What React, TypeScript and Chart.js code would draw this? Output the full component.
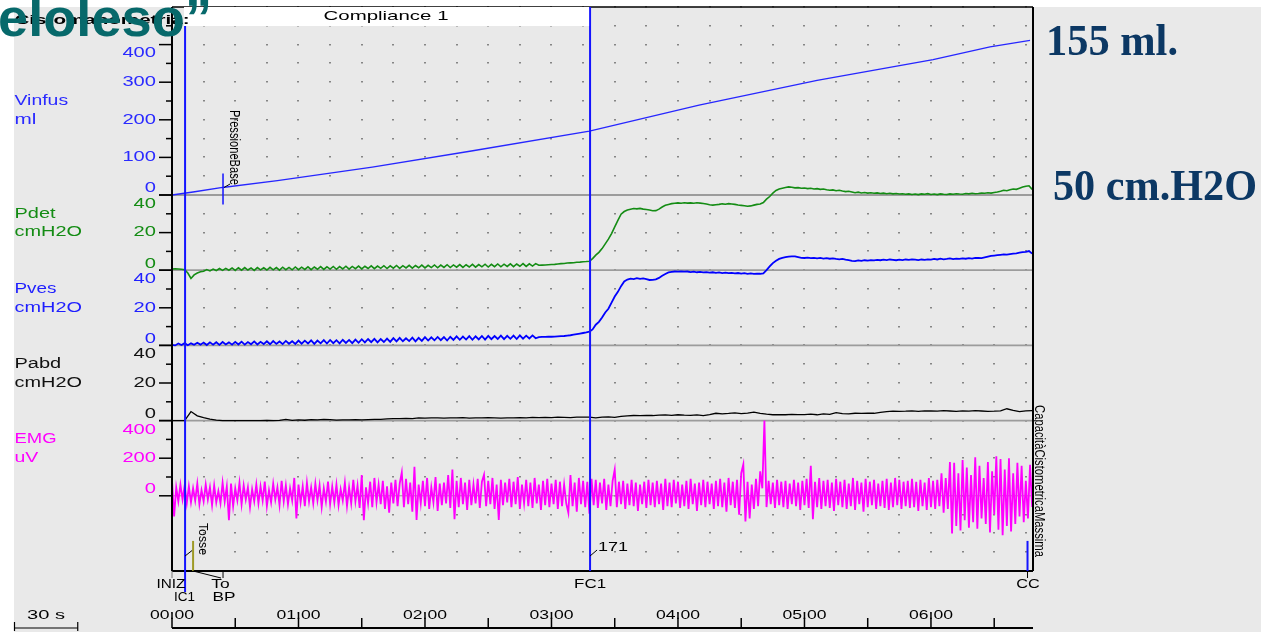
import React, { useEffect, useRef } from 'react';
import { Chart, registerables } from 'chart.js';

Chart.register(...registerables);

// ---------------- DATA ----------------
// time axis (seconds)
const X_MAX = 408.4;
const TIME_MAJOR = [0, 60, 120, 180, 240, 300, 360];
const TIME_LABELS = ['00:00', '01:00', '02:00', '03:00', '04:00', '05:00', '06:00'];
const TIME_MINOR = [30, 90, 150, 210, 270, 330, 390];

// Vinfus (ml) read at irregular times
const VINFUS_T = [0, 10, 24, 50, 95, 142, 198, 250, 306, 361, 388, 407];
const VINFUS_ML = [0, 8, 20, 38, 74, 117, 170, 239, 305, 360, 394, 411];

// Pressure traces sampled every 1.5 s (cmH2O)
const PRESS_DT = 1.5;
const PVES = [
  0.3, 0.0, 1.0, 0.2, 1.2, 0.1, 1.1, 0.3, 1.4, 0.4,
  1.5, 0.2, 1.6, 0.4, 1.7, 0.3, 1.8, 0.5, 1.6, 0.4,
  1.9, 0.5, 2.0, 0.4, 1.8, 0.6, 2.1, 0.5, 1.9, 0.7,
  2.2, 0.6, 2.3, 0.8, 2.1, 0.7, 2.4, 0.9, 2.2, 0.8,
  2.6, 0.9, 2.5, 1.0, 2.7, 0.8, 2.6, 1.1, 2.8, 1.0,
  2.9, 1.2, 2.8, 1.1, 3.0, 1.3, 2.9, 1.2, 3.1, 1.4,
  3.3, 1.6, 3.4, 1.7, 3.5, 1.6, 3.4, 1.8, 3.6, 1.9,
  3.9, 2.1, 4.0, 2.2, 3.8, 2.3, 4.1, 2.1, 4.0, 2.4,
  4.4, 2.6, 4.3, 2.7, 4.5, 2.8, 4.4, 2.6, 4.6, 2.9,
  4.8, 3.0, 4.7, 3.1, 4.9, 3.0, 4.8, 3.2, 5.0, 3.1,
  5.1, 3.3, 5.0, 3.4, 5.2, 3.3, 5.1, 3.5, 5.2, 3.4,
  5.3, 3.6, 5.2, 3.7, 5.3, 3.8, 4.4,
  4.5, 4.5, 4.6, 4.6, 4.7, 4.8, 4.9, 5.0, 5.2, 5.4, 5.7, 6.0, 6.3, 6.6, 6.9, 7.3,
  8.5, 11.0, 12.5, 14.8, 17.5, 19.5, 22.8, 26.0, 28.5, 31.5, 34.0, 35.0, 35.5, 35.3,
  35.8, 35.4, 35.6, 35.2, 34.8, 34.9, 35.1, 35.9, 37.0, 38.0, 38.8, 39.1, 39.3, 39.2,
  39.4, 39.2, 39.3, 39.0, 39.2, 38.9, 39.1, 38.8, 39.0, 38.7,
  38.9, 38.6, 38.8, 38.5, 38.7, 38.4, 38.6, 38.3, 38.5, 38.2,
  38.4, 38.1, 38.3, 38.0, 38.2, 38.1, 38.3,
  40.0, 42.0, 43.8, 45.0, 46.0, 46.6, 47.0, 47.2, 47.4, 47.3, 47.0, 46.6,
  46.5, 46.7, 46.4, 46.6, 46.3, 46.5, 46.2, 46.4, 46.1, 46.3,
  46.0, 45.8, 46.0, 45.6, 45.3, 45.0, 44.8, 45.2, 45.0, 45.3,
  45.1, 45.4, 45.2, 45.5, 45.3, 45.6, 45.4, 45.7, 45.5, 45.3,
  45.6, 45.4, 45.7, 45.5, 45.8, 45.6, 45.4, 45.7, 45.5, 45.8,
  45.6, 46.0, 45.7, 46.1, 45.8, 46.0, 46.3, 45.9, 46.2, 46.0,
  46.3, 46.1, 46.4, 46.2, 46.5, 46.6, 46.4, 46.8, 47.2, 47.6,
  47.8, 48.0, 48.2, 48.4, 48.3, 48.6, 48.8, 49.0, 49.3, 49.6,
  49.8, 50.2, 48.8,
];
const PDET = [
  0.6, 0.7, 0.6, 0.5, 0.3, -1.5, -4.4, -2.5, -1.5, -0.8,
  -0.6, 0.3, -0.4, 0.6, -0.2, 0.9, -0.1, 1.0, 0.0, 1.2,
  -0.1, 1.3, 0.0, 1.4, 0.1, 1.2, -0.1, 1.4, 0.2, 1.3,
  0.1, 1.5, 0.2, 1.4, 0.0, 1.6, 0.3, 1.5, 0.2, 1.7,
  0.3, 1.6, 0.4, 1.8, 0.3, 1.7, 0.5, 1.9, 0.4, 1.8,
  0.6, 2.0, 0.5, 1.9, 0.7, 2.1, 0.6, 2.0, 0.8, 2.2,
  0.7, 2.1, 0.9, 2.3, 0.8, 2.2, 1.0, 2.4, 0.9, 2.3,
  1.1, 2.5, 1.0, 2.4, 1.2, 2.6, 1.1, 2.5, 1.3, 2.7,
  1.2, 2.6, 1.4, 2.8, 1.3, 2.7, 1.5, 2.9, 1.4, 2.8,
  1.6, 3.0, 1.5, 2.9, 1.7, 3.1, 1.6, 3.0, 1.8, 3.2,
  1.7, 3.1, 1.9, 3.3, 1.8, 3.2, 2.0, 3.4, 1.9, 3.3,
  2.1, 3.5, 2.0, 3.4, 2.2, 3.5, 2.6,
  2.7, 2.8, 2.9, 3.0, 3.1, 3.3, 3.5, 3.6, 3.8, 3.9, 4.0, 4.2, 4.3, 4.5, 4.6, 4.8,
  6.2, 8.0, 9.5, 11.5, 14.0, 16.5, 19.5, 23.0, 26.5, 29.8, 31.2, 32.0, 32.4, 32.8,
  32.6, 32.9, 32.5, 32.3, 32.0, 31.6, 31.7, 32.5, 33.6, 34.5, 35.0, 35.4, 35.6, 35.8,
  35.6, 35.9, 35.7, 35.8, 35.6, 35.9, 35.7, 35.5, 35.2, 34.8,
  34.6, 34.8, 35.0, 35.3, 35.1, 35.4, 35.2, 35.0, 34.7, 34.5,
  34.3, 34.0, 34.2, 34.6, 35.0, 35.2, 36.0,
  37.8, 39.2, 41.0, 42.4, 43.2, 43.6, 44.0, 44.3, 44.1, 43.8, 43.9, 43.6,
  43.7, 43.4, 43.6, 43.2, 43.4, 43.0, 43.2, 42.8, 42.5, 42.7,
  42.3, 42.5, 42.1, 41.8, 42.0, 41.6, 41.2, 41.5, 41.1, 41.3,
  41.0, 41.2, 40.9, 41.1, 40.8, 41.0, 40.7, 40.9, 40.6, 40.8,
  40.5, 40.7, 40.4, 40.6, 40.3, 40.5, 40.2, 40.6, 40.4, 40.7,
  40.3, 40.5, 40.2, 40.6, 40.4, 40.3, 40.6, 40.4, 40.7, 40.5,
  40.4, 40.8, 40.6, 40.9, 40.7, 40.8, 41.0, 40.9, 41.2, 41.0,
  41.3, 41.6, 42.0, 42.5, 42.3, 42.8, 43.2, 43.0, 43.6, 44.2,
  44.7, 44.9, 43.0,
];

// Pabd sampled every 3 s (cmH2O)
const PABD_DT = 3;
const PABD = [
  0, 0, 0, 4.8, 2.5, 1.6, 0.8, 0.2, 0, 0,
  0, 0, 0, 0, 0, 0.1, 0.0, 0.1, 0.6, 0.1,
  0.4, 0.2, 0.5, 0.4, 0.6, 0.5, 0.3, 0.4, 0.4, 0.5,
  0.4, 0.5, 0.6, 0.7, 0.9, 1.1, 1.0, 1.2, 1.1, 1.4,
  1.3, 1.5, 1.4, 1.3, 1.5, 1.4, 1.6, 1.3, 1.5, 1.4,
  1.6, 1.5, 1.3, 1.5, 1.4, 1.6, 1.5, 1.7, 1.6, 1.7,
  1.6, 1.8, 1.7, 1.6, 1.8, 1.9, 1.9, 1.5, 1.8, 2.0,
  1.7, 2.2, 2.5, 2.7, 2.6, 2.8, 2.7, 2.9, 3.0, 2.8,
  3.1, 2.9, 2.8, 3.0, 2.7, 3.2, 3.9, 3.6, 3.8, 4.1,
  3.7, 4.0, 4.5, 3.9, 3.4, 3.1, 3.2, 3.1, 3.3, 3.2,
  3.2, 3.4, 3.1, 3.6, 3.3, 4.2, 3.7, 3.6, 3.9, 3.8,
  4.0, 3.9, 4.4, 4.8, 5.0, 4.9, 5.0, 5.2, 4.9, 5.2,
  5.1, 5.0, 5.3, 5.1, 4.9, 5.2, 5.0, 5.3, 5.1, 4.9,
  5.0, 5.2, 6.3, 5.4, 4.8, 5.2, 5.3,
];

// EMG sampled every 1 s (uV)
const EMG_DT = 1;
const EMG = [
  80, -110, 45, -30, 60, -20, 55, -40, 50, -35,
  40, -25, 65, -45, 30, -30, 60, -20, 45, -50,
  55, -35, 25, -40, 70, -30, 50, -130, 65, -55,
  40, -25, 70, -45, 55, -20, 45, -60, 35, -30,
  60, -40, 50, -25, 75, -55, 30, -35, 65, -20,
  45, -50, 80, -30, 55, -45, 40, -25, 95, -120,
  60, -35, 50, -55, 70, -30, 45, -40, 65, -25,
  55, -60, 40, -30, 75, -45, 50, -35, 60, -50,
  35, -25, 70, -55, 45, -40, 85, -30, 55, -65,
  110, -130, 45, -40, 75, -60, 95, -35, 60, -45,
  80, -70, 50, -90, 70, -40, 85, -55, 65, 125,
  -60, 90, -45, 70, -85, 154, -128, 60, -40, 80,
  -55, 95, -70, 45, -35, 100, -80, 65, -50, 70,
  -40, 110, -65, 140, -125, 80, -60, 95, -45, 70,
  -75, 85, -50, 60, -40, 90, -65, 75, 112, -55,
  80, -45, 95, -70, 60, -128, 85, -50, 70, -35,
  90, -60, 75, -45, 100, -70, 60, -40, 85, -55,
  70, -65, 95, -40, 60, -75, 80, -50, 90, -60,
  65, -45, 85, -70, 75, -55, 60, -40, -90, 110,
  -55, 70, -85, 95, -45, 80, -60, 75, -95, 90,
  -50, 85, -65, 70, -40, 90, -75, 60, -55, 80,
  140, -60, 75, -45, 80, -70, 65, -50, 85, -55,
  70, -80, 60, -45, 75, -65, 85, -50, 70, -60,
  80, -45, 65, -75, 90, -55, 70, -60, 85, -40,
  75, -65, 60, -55, 80, -70, 90, -45, 65, -80,
  70, -50, 85, -60, 75, -45, 65, -70, 80, -55,
  90, -60, 70, -85, 95, -50, 75, -65, 85, -100,
  120, 167, -137, 75, -120, 60, -70, 90, -55, 130,
  40, 400, -60, 80, -45, 70, -65, 85, -50, 75,
  -60, 80, -70, 65, -45, 85, -55, 70, -75, 80,
  -50, 90, -65, 160, -125, 75, -60, 95, -70, 80,
  -55, 85, -65, 70, -80, 90, -50, 75, -60, 85,
  -70, 65, -55, 95, -75, 80, -45, 70, -85, 90,
  -60, 75, -50, 85, -70, 65, -55, 80, -65, 90,
  -75, 70, -60, 95, -50, 85, -70, 75, -55, 80,
  -65, 90, -60, 75, -80, 85, -55, 70, -75, 95,
  -60, 80, -70, 85, -55, 120, -90, 95, -70, 180,
  -200, 175, -160, 120, -185, 190, -130, 150, -170, 110,
  -140, 205, -175, 160, -120, 95, -150, 180, -195, 130,
  -100, 210, -180, 195, -210, 140, -160, 200, -190, 120,
  -150, 175, -110, 160, -140, 80, -120, 165, -60,
];

// axis tick labels per panel
const VINFUS_TICKS = [0, 100, 200, 300, 400];
const VINFUS_MINOR = [50, 150, 250, 350, 450];
const PRESS_TICKS = [0, 20, 40];
const PRESS_MINOR = [10, 30];
const EMG_TICKS = [0, 200, 400];
const EMG_MINOR = [100, 300];

// event markers (seconds)
const T_IC1 = 6.2;
const T_TOSSE = 10;
const T_BP = 24.2;
const T_FC1 = 198.3;
const T_CC = 405.8;
const FC1_VOLUME = '171';

// ---------------- STYLE ----------------
const W = 1261;
const H = 632;
const BG = '#e9e9e9';
const BLUE = '#1414ff';
const GREEN = '#148c14';
const MAGENTA = '#ff00ff';
const NAVY = '#0c3864';
const TEAL = '#07696b';
const SANS = '"Liberation Sans", Arial, sans-serif';
const SERIF = '"Liberation Serif", "Times New Roman", serif';

type Panel = {
  id: string; min: number; max: number; step: number; color: string;
  ticks: number[]; minor: number[]; name: string; unit: string;
  nameAt: number; unitAt: number; nameW: number; unitW: number; topDy: number;
};

const PANELS: Panel[] = [
  { id: 'yV', min: 0, max: 500, step: 50, color: '#2a2aff', ticks: VINFUS_TICKS, minor: VINFUS_MINOR, name: 'Vinfus', unit: 'ml', nameAt: 250, unitAt: 200, nameW: 53.6, unitW: 21.9, topDy: 9 },
  { id: 'yPdet', min: 0, max: 40, step: 10, color: GREEN, ticks: PRESS_TICKS, minor: PRESS_MINOR, name: 'Pdet', unit: 'cmH2O', nameAt: 30, unitAt: 20, nameW: 41, unitW: 67.5, topDy: 9 },
  { id: 'yPves', min: 0, max: 40, step: 10, color: '#1f1fff', ticks: PRESS_TICKS, minor: PRESS_MINOR, name: 'Pves', unit: 'cmH2O', nameAt: 30, unitAt: 20, nameW: 42, unitW: 67.5, topDy: 9 },
  { id: 'yPabd', min: 0, max: 40, step: 10, color: '#111111', ticks: PRESS_TICKS, minor: PRESS_MINOR, name: 'Pabd', unit: 'cmH2O', nameAt: 30, unitAt: 20, nameW: 46.7, unitW: 67.5, topDy: 9 },
  { id: 'yEMG', min: -400, max: 400, step: 100, color: MAGENTA, ticks: EMG_TICKS, minor: EMG_MINOR, name: 'EMG', unit: 'uV', nameAt: 300, unitAt: 200, nameW: 42, unitW: 23.8, topDy: 10 },
];

type TOpt = { font: string; color: string; w?: number; align?: CanvasTextAlign; rot?: number; base?: CanvasTextBaseline };
function txt(ctx: CanvasRenderingContext2D, s: string, x: number, y: number, o: TOpt) {
  ctx.save();
  ctx.font = o.font;
  ctx.fillStyle = o.color;
  ctx.textBaseline = o.base || 'middle';
  ctx.textAlign = o.align || 'left';
  const m = ctx.measureText(s).width;
  const sx = o.w ? o.w / m : 1;
  ctx.translate(x, y);
  if (o.rot) ctx.rotate(o.rot);
  ctx.scale(sx, 1);
  ctx.fillText(s, 0, 0);
  ctx.restore();
}

function line(ctx: CanvasRenderingContext2D, x1: number, y1: number, x2: number, y2: number, color: string, w: number) {
  ctx.save();
  ctx.strokeStyle = color;
  ctx.lineWidth = w;
  ctx.beginPath();
  ctx.moveTo(x1, y1);
  ctx.lineTo(x2, y2);
  ctx.stroke();
  ctx.restore();
}

const backgroundPlugin = {
  id: 'urodynBg',
  beforeDraw(chart: any) {
    const { ctx, scales } = chart;
    const a = chart.chartArea;
    const xs = scales.x;
    ctx.save();
    ctx.fillStyle = '#ffffff';
    ctx.fillRect(0, 0, W, H);
    ctx.fillStyle = BG;
    ctx.fillRect(14, 7, W - 14, H - 7);
    // dotted grid
    ctx.fillStyle = '#858585';
    for (const p of PANELS) {
      const s = scales[p.id];
      for (let v = p.min; v <= p.max; v += p.step) {
        const py = Math.round(s.getPixelForValue(v));
        for (let t = 15; t < X_MAX; t += 15) {
          const px = Math.round(xs.getPixelForValue(t));
          ctx.fillRect(px - 1, py - 1, 2, 1.5);
        }
      }
    }
    // zero baselines
    for (const p of PANELS) {
      const y0 = scales[p.id].getPixelForValue(0);
      line(ctx, a.left, y0, a.right, y0, '#9c9c9c', p.id === 'yEMG' ? 1 : 1.8);
    }
    ctx.restore();
  },
};

const overlayPlugin = {
  id: 'urodynOverlay',
  afterDraw(chart: any) {
    const { ctx, scales } = chart;
    const a = chart.chartArea;
    const xs = scales.x;
    const X = (t: number) => xs.getPixelForValue(t);
    ctx.save();

    // plot frame
    line(ctx, a.left, a.top, a.right, a.top, '#000', 1.5);
    line(ctx, a.left, a.top, a.left, a.bottom, '#000', 2);
    line(ctx, a.right, a.top, a.right, a.bottom, '#000', 2);
    line(ctx, a.left, a.bottom, a.right, a.bottom, '#000', 2);
    line(ctx, a.left, a.bottom, a.left, a.bottom + 7, '#777', 1);

    // left axes: ticks, labels and names
    for (const p of PANELS) {
      const s = scales[p.id];
      for (const v of p.ticks) {
        const y = s.getPixelForValue(v);
        line(ctx, a.left - 13, y, a.left, y, '#000', 1.5);
        const top = v === p.ticks[p.ticks.length - 1];
        const dy = v === 0 ? -6.5 : top ? p.topDy : 0;
        const lab = String(v);
        txt(ctx, lab, 156, y + dy, { font: `14px ${SANS}`, color: p.color, align: 'right', w: 11.2 * lab.length });
      }
      for (const v of p.minor) {
        const y = s.getPixelForValue(v);
        line(ctx, a.left - 6, y, a.left, y, '#000', 1.5);
      }
      txt(ctx, p.name, 14.5, s.getPixelForValue(p.nameAt), { font: `14px ${SANS}`, color: p.color, w: p.nameW });
      txt(ctx, p.unit, 14.5, s.getPixelForValue(p.unitAt), { font: `14px ${SANS}`, color: p.color, w: p.unitW });
    }

    // event markers
    const xIC = X(T_IC1);
    const xFC = X(T_FC1);
    const xCC = X(T_CC);
    const xT = X(T_TOSSE);
    const xBP = X(T_BP);
    const yV = scales.yV;
    const yPdet = scales.yPdet;
    const yE = scales.yEMG;
    const yLow = yE.getPixelForValue(-240);
    line(ctx, xIC, a.top, xIC, 592, BLUE, 2);
    line(ctx, xFC, a.top, xFC, a.bottom, BLUE, 2);
    line(ctx, xCC, yLow, xCC, a.bottom, BLUE, 2);
    line(ctx, xCC, a.bottom, xCC, a.bottom + 7, '#000', 1);
    line(ctx, xT, yLow, xT, a.bottom, '#9e9a26', 2);
    line(ctx, xBP, yV.getPixelForValue(57), xBP, yPdet.getPixelForValue(35), BLUE, 1.5);
    line(ctx, xBP + 1, 187.5, xBP + 7, 184, '#000', 1);
    line(ctx, xIC, 556, xIC + 7, 550.5, '#000', 1);
    line(ctx, xFC, 556, xFC + 7, 550, '#000', 1);
    line(ctx, xT, a.bottom, xBP - 2, a.bottom + 7, '#000', 1);
    line(ctx, xBP, a.bottom, xBP, a.bottom + 7, '#000', 1);

    const mf = `12px ${SANS}`;
    txt(ctx, 'INIZ', a.left - 1, 585, { font: mf, color: '#000', align: 'center', w: 29 });
    txt(ctx, 'IC1', xIC - 0.5, 598, { font: mf, color: '#000', align: 'center', w: 21 });
    txt(ctx, 'To', xBP - 2.5, 585, { font: mf, color: '#000', align: 'center', w: 18.4 });
    txt(ctx, 'BP', xBP + 1, 598, { font: mf, color: '#000', align: 'center', w: 23 });
    txt(ctx, 'FC1', xFC, 585, { font: mf, color: '#000', align: 'center', w: 32 });
    txt(ctx, 'CC', xCC + 0.5, 585, { font: mf, color: '#000', align: 'center', w: 23.5 });
    txt(ctx, FC1_VOLUME, xFC + 8, 548, { font: mf, color: '#000', w: 30 });

    // rotated annotations
    txt(ctx, 'PressioneBase', xBP + 11, 110, { font: `15px ${SANS}`, color: '#000', rot: Math.PI / 2, w: 75 });
    txt(ctx, 'Tosse', xT + 9, 523, { font: `12px ${SANS}`, color: '#000', rot: Math.PI / 2, w: 32 });
    txt(ctx, 'CapacitàCistometricaMassima', a.right + 6, 405, { font: `14px ${SANS}`, color: '#000', rot: Math.PI / 2, w: 152 });

    // time axis
    const yAx = 628;
    line(ctx, a.left, yAx, a.right, yAx, '#000', 2);
    TIME_MAJOR.forEach((t, i) => {
      const x = X(t);
      line(ctx, x, yAx, x, yAx - 15, '#000', 1.5);
      txt(ctx, TIME_LABELS[i], x, 615, { font: `13px ${SANS}`, color: '#000', align: 'center', w: 44 });
    });
    TIME_MINOR.forEach((t) => {
      const x = X(t);
      line(ctx, x, yAx, x, yAx - 10, '#000', 1.5);
    });
    // 30 s scale bar
    const barLen = X(30) - X(0);
    line(ctx, 14.5, yAx, 14.5 + barLen, yAx, '#000', 1.2);
    line(ctx, 14.5, yAx - 6, 14.5, yAx + 3, '#000', 1.2);
    line(ctx, 14.5 + barLen, yAx - 6, 14.5 + barLen, yAx + 3, '#000', 1.2);
    txt(ctx, '30 s', 14.5 + barLen / 2, 615, { font: `13px ${SANS}`, color: '#000', align: 'center', w: 38 });

    // header box
    ctx.fillStyle = '#ffffff';
    ctx.fillRect(184, 7, xFC - 1 - 184, 19);
    txt(ctx, 'Compliance 1', 386, 16.5, { font: `13px ${SANS}`, color: '#000', align: 'center', w: 125 });

    // title remnants
    txt(ctx, 'Cistomanometria:', 14.5, 20, { font: `bold 13px ${SANS}`, color: '#000', w: 175 });
    txt(ctx, 'eloleso\u201d', -2, 36, { font: `bold 54px ${SANS}`, color: TEAL, base: 'alphabetic', w: 214 });

    // right-hand annotations
    txt(ctx, '155 ml.', 1046, 55, { font: `bold 44px ${SERIF}`, color: NAVY, base: 'alphabetic', w: 132 });
    txt(ctx, '50 cm.H2O', 1053, 200, { font: `bold 44px ${SERIF}`, color: NAVY, base: 'alphabetic', w: 204 });

    ctx.restore();
  },
};

function yScale(min: number, max: number, weight: number, stackWeight: number) {
  return {
    type: 'linear',
    position: 'left',
    stack: 'panels',
    stackWeight,
    weight,
    min,
    max,
    ticks: { display: false },
    grid: { display: false, drawTicks: false },
    border: { display: false },
    afterFit: (s: any) => { s.width = 172; },
  };
}

export default function App() {
  const ref = useRef<HTMLCanvasElement>(null);
  useEffect(() => {
    const canvas = ref.current;
    if (!canvas) return;
    const series = (arr: number[], dt: number) => arr.map((v, i) => ({ x: i * dt, y: v }));
    const common = { pointRadius: 0, tension: 0, clip: false as any, fill: false, xAxisID: 'x' };
    const chart = new Chart(canvas, {
      type: 'line',
      data: {
        datasets: [
          { ...common, label: 'Vinfus', yAxisID: 'yV', data: VINFUS_T.map((t, i) => ({ x: t, y: VINFUS_ML[i] })), borderColor: '#2626ff', borderWidth: 1.3 },
          { ...common, label: 'Pdet', yAxisID: 'yPdet', data: series(PDET, PRESS_DT), borderColor: GREEN, borderWidth: 1.6 },
          { ...common, label: 'Pves', yAxisID: 'yPves', data: series(PVES, PRESS_DT), borderColor: '#0000ff', borderWidth: 1.8 },
          { ...common, label: 'Pabd', yAxisID: 'yPabd', data: series(PABD, PABD_DT), borderColor: '#000000', borderWidth: 1.3 },
          { ...common, label: 'EMG', yAxisID: 'yEMG', data: series(EMG, EMG_DT), borderColor: MAGENTA, borderWidth: 1.8 },
        ] as any,
      },
      options: {
        animation: false,
        responsive: false,
        maintainAspectRatio: false,
        devicePixelRatio: 1,
        events: [],
        layout: { padding: { left: 0, top: 7, right: W - 1033, bottom: H - 571 } },
        plugins: { legend: { display: false }, tooltip: { enabled: false }, title: { display: false } },
        scales: {
          x: { type: 'linear', min: 0, max: X_MAX, display: false },
          yV: yScale(0, 500, 5, 10),
          yPdet: yScale(0, 40, 4, 4),
          yPves: yScale(0, 40, 3, 4),
          yPabd: yScale(0, 40, 2, 4),
          yEMG: yScale(-400, 400, 1, 8),
        } as any,
      },
      plugins: [backgroundPlugin, overlayPlugin],
    });
    return () => chart.destroy();
  }, []);
  return (
    <canvas
      ref={ref}
      width={W}
      height={H}
      style={{ position: 'fixed', left: 0, top: 0, width: W, height: H, display: 'block' }}
    />
  );
}
